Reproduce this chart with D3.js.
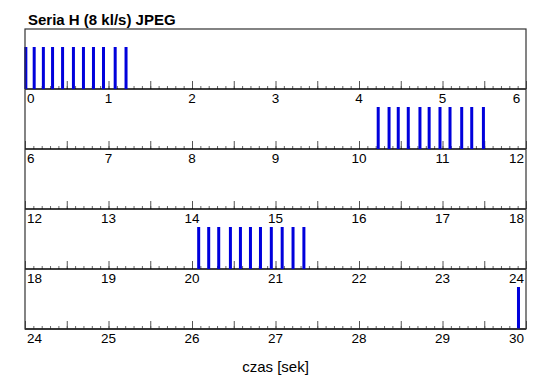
<!DOCTYPE html>
<html>
<head>
<meta charset="utf-8">
<script src="https://cdn.jsdelivr.net/npm/d3@7"></script>
<style>
  body { margin: 0; background: #fff; }
  text { font-family: "Liberation Sans", Arial, sans-serif; }
</style>
</head>
<body>
<div id="chart"></div>
<script>
(function() {
  var title = "Seria H (8 kl/s) JPEG";
  var xLabel = "czas [sek]";

  // start of each 6-second strip
  var rowStarts = [0, 6, 12, 18, 24];
  var rowSpan = 6;

  // frame times (seconds)
  var burst1 = [0.01, 0.11, 0.22, 0.33, 0.45, 0.58, 0.70, 0.82, 0.94, 1.08, 1.21];
  var burst2 = [10.23, 10.36, 10.47, 10.59, 10.73, 10.84, 10.97, 11.09, 11.23, 11.35, 11.49];
  var burst3 = [20.08, 20.20, 20.32, 20.46, 20.58, 20.70, 20.82, 20.95, 21.08, 21.21, 21.34];
  var burst4 = [29.91];

  var frames = burst1.concat(burst2, burst3, burst4);

  var width = 550,
      height = 389,
      margin = {top: 29, left: 25, right: 24},
      rowH = 60,
      barH = 42;

  var svg = d3.select("#chart").append("svg")
      .attr("width", width)
      .attr("height", height);

  var x = d3.scaleLinear()
      .domain([0, rowSpan])
      .range([margin.left, width - margin.right]);

  var y = d3.scaleBand()
      .domain(rowStarts)
      .range([margin.top, margin.top + rowH * rowStarts.length])
      .padding(0);

  svg.append("text")
      .attr("x", 28)
      .attr("y", 25)
      .attr("font-size", 15)
      .attr("font-weight", "bold")
      .text(title);

  var rows = svg.selectAll(".row")
      .data(rowStarts)
    .enter().append("g")
      .attr("class", "row")
      .attr("transform", function(d) { return "translate(0," + (y(d) + rowH) + ")"; });

  // minor ticks every 0.1 s
  rows.append("g")
      .call(d3.axisTop(x)
          .tickValues(d3.range(0, 61).map(function(i) { return i / 10; }))
          .tickSize(3)
          .tickSizeOuter(0)
          .tickFormat(""))
      .call(function(g) { g.select(".domain").remove(); })
      .selectAll("line").attr("stroke", "#666");

  // longer ticks every half second
  rows.append("g")
      .call(d3.axisTop(x)
          .tickValues(d3.range(0, 13).map(function(i) { return i / 2; }))
          .tickSize(8)
          .tickSizeOuter(0)
          .tickFormat(""))
      .call(function(g) { g.select(".domain").remove(); })
      .selectAll("line").attr("stroke", "#555");

  // frames
  svg.selectAll(".frame")
      .data(frames)
    .enter().append("rect")
      .attr("class", "frame")
      .attr("x", function(d) {
        var r = Math.min(Math.floor(d / rowSpan), rowStarts.length - 1);
        return x(d - rowStarts[r]) - 1.5;
      })
      .attr("y", function(d) {
        var r = Math.min(Math.floor(d / rowSpan), rowStarts.length - 1);
        return y(rowStarts[r]) + rowH - barH;
      })
      .attr("width", 3)
      .attr("height", barH)
      .attr("fill", "#0000dc");

  // strip baselines
  rows.append("line")
      .attr("x1", x(0))
      .attr("x2", x(rowSpan))
      .attr("stroke", "#000")
      .attr("stroke-width", 1.6);

  // tick labels under each strip
  rows.each(function(start) {
    var labels = d3.range(0, rowSpan + 1);
    d3.select(this).selectAll(".lbl")
        .data(labels)
      .enter().append("text")
        .attr("class", "lbl")
        .attr("x", function(d) {
          if (d === 0) return x(0) + 2;
          if (d === rowSpan) return x(rowSpan) - 9.5;
          return x(d);
        })
        .attr("y", 13.5)
        .attr("font-size", 13.5)
        .attr("text-anchor", function(d) { return d === 0 ? "start" : "middle"; })
        .text(function(d) { return start + d; });
  });

  // frame around plot
  svg.append("rect")
      .attr("x", x(0))
      .attr("y", margin.top)
      .attr("width", x(rowSpan) - x(0))
      .attr("height", rowH * rowStarts.length)
      .attr("fill", "none")
      .attr("stroke", "#333")
      .attr("stroke-width", 1.2);

  svg.append("text")
      .attr("x", (x(0) + x(rowSpan)) / 2)
      .attr("y", 372)
      .attr("text-anchor", "middle")
      .attr("font-size", 15)
      .text(xLabel);
})();
</script>
</body>
</html>
